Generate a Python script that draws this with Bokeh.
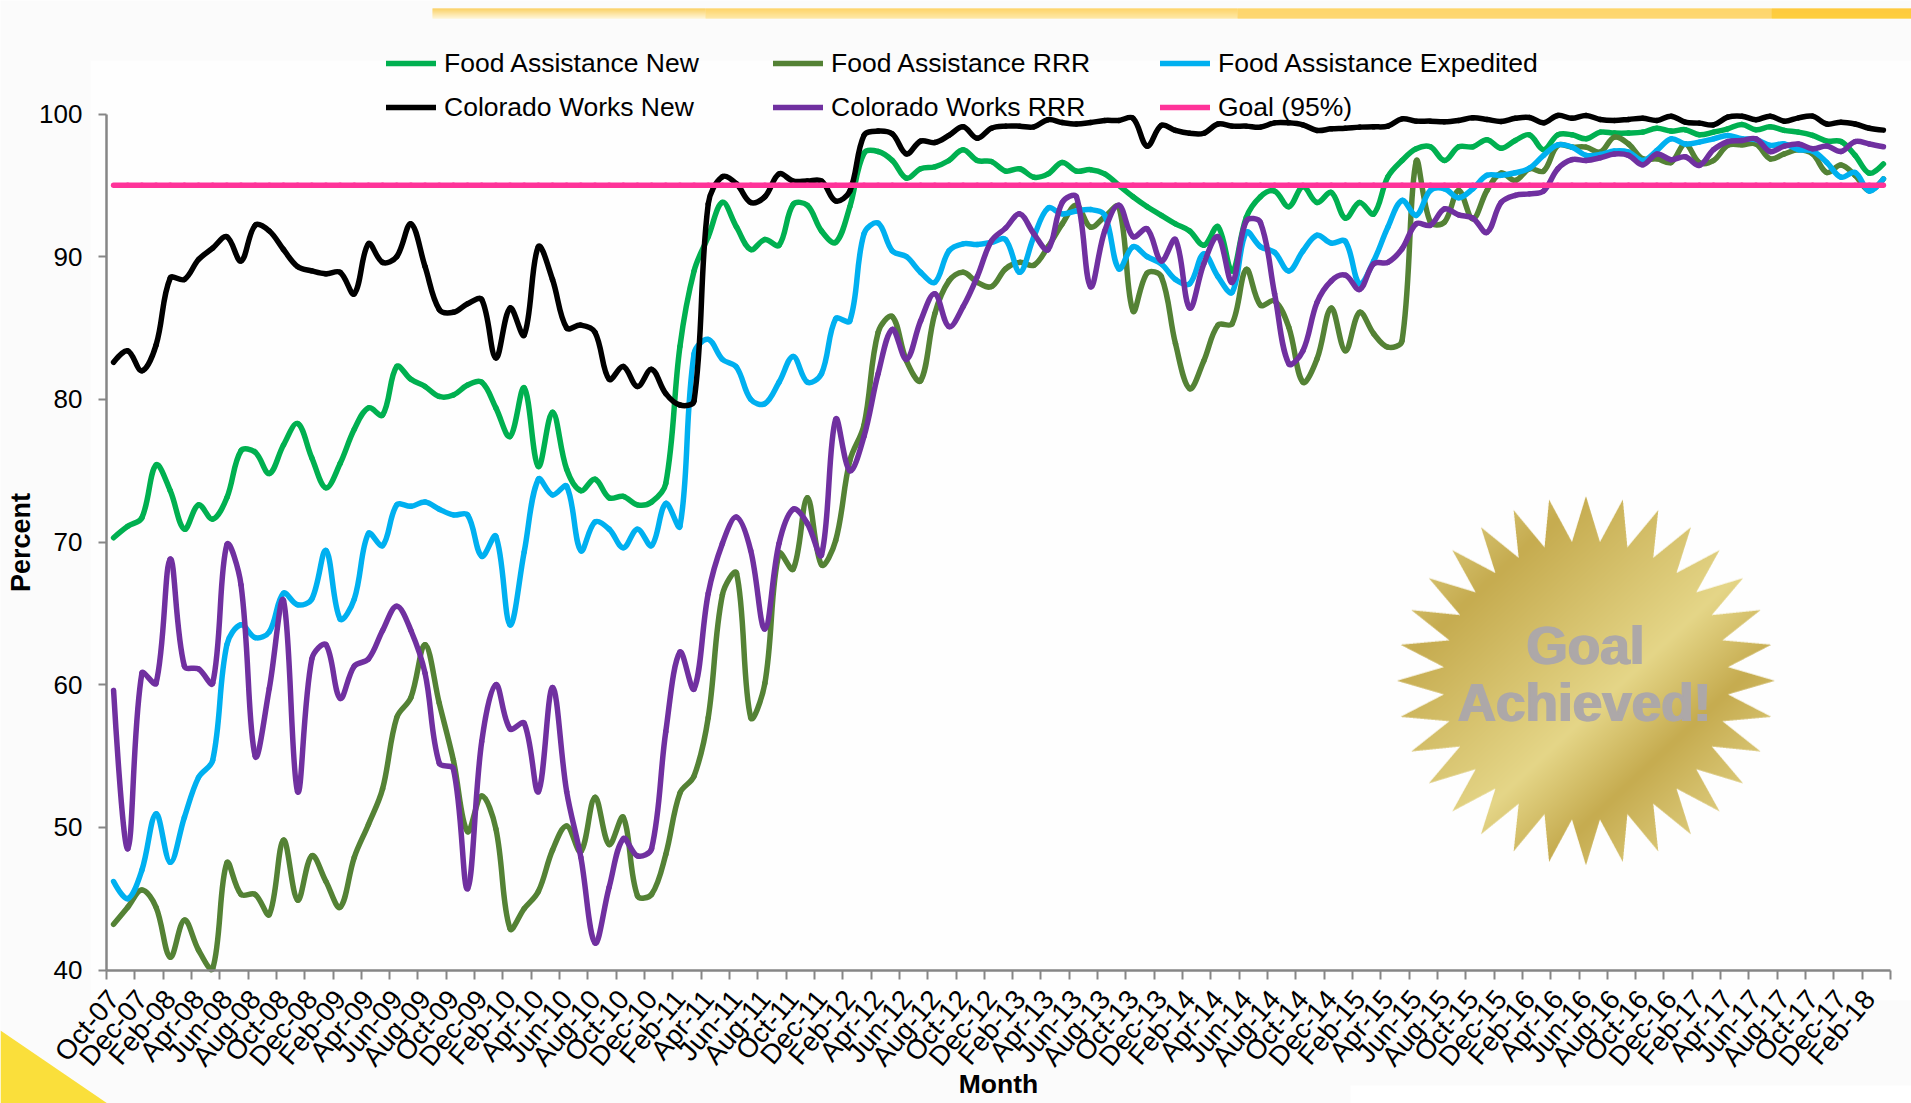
import numpy as np
from bokeh.plotting import figure
from bokeh.models import (ColumnDataSource, FixedTicker, LinearAxis, Legend, LegendItem, Range1d)
from bokeh.core.properties import value
from bokeh.embed import file_html
from bokeh.resources import INLINE

month_names = ["Oct","Nov","Dec","Jan","Feb","Mar","Apr","May","Jun","Jul","Aug","Sep"]
months = []
yr = 7
for k in range(126):
    m = month_names[k % 12]
    if m == "Jan" and k > 0:
        yr += 1
    months.append(f"{m}-{yr:02d}")

fa_new = [70.3,71.1,71.7,75.4,73.6,70.9,72.6,71.6,73.1,76.4,
 76.3,74.8,76.8,78.3,75.9,73.8,75.5,77.9,79.4,78.9,
 82.3,81.4,80.9,80.2,80.3,81.0,81.2,79.4,77.4,80.8,
 75.3,79.1,75.1,73.6,74.4,73.1,73.2,72.6,72.8,74.1,
 83.7,89.0,91.4,93.8,92.07,90.5,91.2,90.8,93.66,93.6,
 91.8,91.0,93.5,97.25,97.37,96.74,95.5,96.16,96.3,96.74,
 97.5,96.74,96.67,96.0,96.16,95.57,95.8,96.6,96.0,96.1,
 95.8,95.0,94.2,93.5,92.9,92.3,91.8,90.8,92.1,89.0,
 92.75,94.2,94.6,93.5,94.9,93.8,94.5,92.7,93.8,93.0,
 95.6,96.74,97.56,97.7,96.74,97.7,97.7,98.2,97.6,98.15,
 98.54,97.5,98.54,98.54,98.26,98.73,98.66,98.66,98.73,99.0,
 98.8,98.9,98.54,98.73,98.96,99.27,98.9,99.1,98.85,98.73,
 98.5,98.1,98.07,97.1,95.85,96.5]

fa_rrr = [43.2,44.4,45.6,44.4,40.9,43.5,41.4,40.1,47.5,45.3,
 45.3,43.9,49.1,44.9,48.0,46.2,44.4,47.9,50.2,52.7,
 57.7,59.1,62.8,58.7,54.7,49.7,52.2,49.9,42.9,44.3,
 45.5,48.4,50.1,48.3,52.1,48.8,50.7,45.2,45.3,48.1,
 52.4,53.6,57.7,66.3,67.8,57.7,60.1,69.2,68.1,73.1,
 68.4,70.1,75.7,78.2,84.7,85.8,82.7,81.3,86.0,88.3,
 88.9,88.2,87.9,89.15,89.6,89.4,90.7,92.3,93.6,92.07,
 92.8,93.5,86.2,88.85,88.6,83.9,80.75,82.7,85.2,85.3,
 89.1,86.6,86.9,85.06,81.2,82.84,86.4,83.4,86.1,84.6,
 83.66,84.1,96.67,92.42,92.42,94.64,92.65,94.64,95.85,95.34,
 96.16,96.0,97.8,97.68,97.68,97.33,98.38,97.9,96.86,96.86,
 96.6,97.9,96.6,96.74,97.8,97.84,97.9,96.86,97.2,97.5,
 97.2,95.9,96.43,95.7,94.63,95.45]

fa_exp = [46.2,45.0,47.0,50.95,47.55,50.7,53.5,54.7,62.8,64.2,
 63.3,63.7,66.4,65.6,66.0,69.4,64.6,66.0,70.6,69.75,
 72.6,72.5,72.8,72.3,71.9,71.9,69.0,70.4,64.2,69.3,
 74.4,73.3,73.9,69.4,71.4,70.9,69.6,70.9,69.75,72.7,
 71.1,83.2,84.2,82.8,82.25,80.0,79.7,81.2,83.0,81.2,
 81.8,85.65,85.5,91.6,92.35,90.4,90.0,88.9,88.2,90.4,
 90.9,90.85,91.0,91.2,88.9,91.4,93.4,93.0,93.2,93.3,
 92.9,89.15,90.7,90.0,89.5,88.4,88.1,90.2,88.6,87.5,
 91.7,90.7,90.3,89.0,90.4,91.5,90.95,91.07,88.1,89.7,
 92.07,93.94,92.9,94.64,94.76,94.13,94.76,95.7,95.7,95.88,
 96.2,97.1,97.84,97.68,97.1,97.16,97.4,97.33,96.74,97.44,
 98.26,97.9,98.03,98.26,98.5,98.26,98.2,97.8,97.9,97.5,
 97.4,96.6,95.57,95.9,94.6,95.45]

cw_new = [82.6,83.4,82.0,83.8,88.5,88.4,89.8,90.6,91.4,89.7,
 92.2,91.8,90.5,89.3,89.0,88.8,88.9,87.4,90.9,89.6,
 90.0,92.3,89.3,86.3,86.1,86.7,87.0,82.9,86.4,84.5,
 90.7,88.4,85.0,85.2,84.7,81.4,82.3,80.9,82.1,80.4,
 79.6,79.9,93.7,95.6,95.1,93.8,94.2,95.8,95.3,95.3,
 95.3,93.9,94.6,98.5,98.8,98.6,97.2,98.1,98.0,98.5,
 99.1,98.3,99.0,99.15,99.15,99.1,99.6,99.4,99.3,99.4,
 99.55,99.55,99.7,97.75,99.2,98.85,98.65,98.65,99.3,99.15,
 99.15,99.08,99.38,99.38,99.24,98.85,98.96,99.0,99.08,99.1,
 99.15,99.66,99.5,99.5,99.45,99.55,99.73,99.62,99.48,99.7,
 99.76,99.38,99.9,99.7,99.9,99.62,99.55,99.62,99.7,99.55,
 99.85,99.43,99.36,99.24,99.78,99.85,99.6,99.85,99.5,99.73,
 99.85,99.3,99.43,99.3,99.0,98.87]

cw_rrr = [59.6,48.5,60.8,60.1,68.8,61.3,61.1,60.1,69.8,67.0,
 55.0,59.75,65.9,52.5,61.8,62.8,59.05,61.3,61.8,63.8,
 65.5,63.8,60.8,54.5,54.1,45.7,56.0,60.0,56.9,57.3,
 52.5,59.8,52.5,47.9,41.9,45.8,49.2,48.0,48.5,56.7,
 62.28,59.7,66.4,69.9,71.74,69.4,63.9,69.9,72.3,71.3,
 69.1,78.6,75.0,77.4,81.8,84.9,82.8,85.5,87.4,85.1,
 86.5,88.6,91.1,92.0,93.0,91.6,90.5,93.8,94.2,87.9,
 91.8,93.6,91.4,91.95,89.7,91.2,86.4,89.5,91.4,88.2,
 92.5,92.4,87.4,82.5,83.4,86.8,88.3,88.7,87.7,89.5,
 89.6,90.55,92.3,92.2,93.35,92.93,92.7,91.7,93.8,94.3,
 94.4,94.6,96.16,96.8,96.74,96.93,97.2,97.1,96.44,97.2,
 96.8,97.0,96.4,97.5,98.07,98.14,98.26,97.37,97.75,97.9,
 97.56,97.75,97.37,98.07,97.9,97.7]

goal = [95] * 126

series = [("Food Assistance New", fa_new, "#00B050"),
          ("Food Assistance RRR", fa_rrr, "#548235"),
          ("Food Assistance Expedited", fa_exp, "#00B0F0"),
          ("Colorado Works New", cw_new, "#000000"),
          ("Colorado Works RRR", cw_rrr, "#7030A0"),
          ("Goal (95%)", goal, "#FF3399")]
for _, v, _c in series:
    assert len(v) == 126, len(v)

FONT = "Liberation Sans"
W, H = 1911, 1103
FX0, FX1, FY0, FY1 = 106.0, 1890.0, 113.5, 969.5   # where the axes lie on the page

def dx(px):
    return -0.5 + (px - FX0) / (FX1 - FX0) * 126
def dy(py):
    return 100 - (py - FY0) / (FY1 - FY0) * 60

p = figure(width=W, height=H, output_backend="svg", toolbar_location=None,
           x_range=Range1d(dx(0), dx(W)), y_range=Range1d(dy(H), dy(0)),
           min_border=0, x_axis_type=None, y_axis_type=None,
           border_fill_color="#FBFBFB", background_fill_color="#FBFBFB")
p.grid.visible = False
p.outline_line_color = None

def box(l, r, t, b, c):
    p.quad(left=[dx(l)], right=[dx(r)], top=[dy(t)], bottom=[dy(b)], fill_color=c, line_color=None)

def mix(a, b, t):
    a = np.array([int(a[i:i+2], 16) for i in (1, 3, 5)], float)
    b = np.array([int(b[i:i+2], 16) for i in (1, 3, 5)], float)
    c = a + (b - a) * t
    return "#%02X%02X%02X" % tuple(int(round(x)) for x in c)

box(90, W, 60, 1000, "#FEFEFE")
box(1350, W, 1085, H, "#FFFFFF")
bar_segments = [(432, 705, "#FBC437", "#FFF1C4"),
                (705, 1237, "#FFC83A", "#FFE189"),
                (1237, 1771, "#FFC93C", "#FFCB45"),
                (1771, W, "#FFB900", "#FFC000")]
for l, r, c0, c1 in bar_segments:
    for s in range(10):
        box(l, r, 8 + s, 9 + s, mix(c0, c1, s / 9))

p.patch(x=[dx(0), dx(0), dx(107)], y=[dy(1030), dy(H), dy(H)], fill_color="#FADF3B", line_color=None)

# seal
CX, CY = 1585.4, 680.3
n_pts = 32
ang = np.arange(2 * n_pts) * np.pi / n_pts
rad_x = np.where(np.arange(2 * n_pts) % 2 == 0, 189.0, 142.7)
rad_y = np.where(np.arange(2 * n_pts) % 2 == 0, 184.7, 139.4)
sx = rad_x * np.sin(ang)
sy = -rad_y * np.cos(ang)
SS = 3
R = 195
g = (np.arange(2 * R * SS) + 0.5) / SS - R
gx, gy = np.meshgrid(g, -g)     # row 0 is the bottom of the picture
inside = np.zeros(gx.shape, bool)
for i in range(len(sx)):
    x0, y0, x1, y1 = sx[i], sy[i], sx[(i + 1) % len(sx)], sy[(i + 1) % len(sx)]
    cross = (y0 > gy) != (y1 > gy)
    with np.errstate(divide="ignore", invalid="ignore"):
        xi = x0 + (gy - y0) * (x1 - x0) / (y1 - y0)
    inside ^= cross & (gx < xi)
alpha = inside.reshape(2 * R, SS, 2 * R, SS).mean(axis=(1, 3))
t = (g.reshape(2 * R, SS).mean(axis=1))
tx, ty = np.meshgrid(t, -t)
proj = tx * 0.68 + ty * 0.73
stops_t = [-210, -138, 27, 105, 210]
stops = [(0xDC, 0xCB, 0x7C), (0xC6, 0xAC, 0x50), (0xE5, 0xD6, 0x88), (0xC6, 0xAC, 0x50), (0xE2, 0xD2, 0x85)]
rc = np.interp(proj, stops_t, [s[0] for s in stops])
gc = np.interp(proj, stops_t, [s[1] for s in stops])
bc = np.interp(proj, stops_t, [s[2] for s in stops])
img = np.zeros((2 * R, 2 * R), dtype=np.uint32)
view = img.view(dtype=np.uint8).reshape((2 * R, 2 * R, 4))
view[..., 0] = rc.astype(np.uint8)
view[..., 1] = gc.astype(np.uint8)
view[..., 2] = bc.astype(np.uint8)
view[..., 3] = (alpha * 255).astype(np.uint8)
p.image_rgba(image=[img], x=dx(CX - R), y=dy(CY + R),
             dw=dx(CX + R) - dx(CX - R), dh=dy(CY - R) - dy(CY + R))
for txt, tx_px, ty_px in [("Goal", 1585, 645), ("Achieved!", 1584, 702)]:
    for off in (-1.0, 1.0):
        p.text(x=[dx(tx_px + off)], y=[dy(ty_px)], text=[txt], text_font=value(FONT),
               text_font_style="bold", text_font_size="53px", text_color="#ADA8A8",
               text_align="center", text_baseline="middle")

# smoothed series: cubic Bezier segments through the monthly values, with handles
# shared out by the lengths of the two neighbouring chords
def bez(vals, tension=0.36):
    y = np.array(vals, float)
    x = np.arange(len(y), dtype=float)
    n = len(y)
    d = np.hypot(np.diff(x), np.diff(y))
    cbx, cby, cax, cay = x.copy(), y.copy(), x.copy(), y.copy()
    for i in range(1, n - 1):
        s = d[i - 1] + d[i]
        tx_, ty_ = x[i + 1] - x[i - 1], y[i + 1] - y[i - 1]
        fa, fb = tension * d[i - 1] / s, tension * d[i] / s
        cbx[i], cby[i] = x[i] - fa * tx_, y[i] - fa * ty_
        cax[i], cay[i] = x[i] + fb * tx_, y[i] + fb * ty_
    return dict(x0=x[:-1], y0=y[:-1], x1=x[1:], y1=y[1:],
                cx0=cax[:-1], cy0=cay[:-1], cx1=cbx[1:], cy1=cby[1:])

items = []
for name, vals, col in series:
    r = p.bezier(x0="x0", y0="y0", x1="x1", y1="y1", cx0="cx0", cy0="cy0", cx1="cx1", cy1="cy1",
                 source=ColumnDataSource(bez(vals)), line_color=col, line_width=5.5,
                 line_cap="round")
    items.append(LegendItem(label=name, renderers=[r], index=0))

# axes (fixed on the value 40 and on the left end of the months)
GRAY = "#868686"
edges = [-0.5 + 2 * i for i in range(64)]
tick_axis = LinearAxis(ticker=FixedTicker(ticks=edges), fixed_location=40,
                       bounds=(-0.5, 125.5),
                       major_label_text_font_size="0px", major_label_standoff=0,
                       major_label_overrides={e: "" for e in edges},
                       axis_line_color=GRAY, axis_line_width=2.5,
                       major_tick_line_color=GRAY, major_tick_line_width=2,
                       major_tick_in=0, major_tick_out=9,
                       minor_tick_line_color=None)
p.add_layout(tick_axis, "below")

label_pos = list(range(0, 126, 2))
label_axis = LinearAxis(ticker=FixedTicker(ticks=label_pos), fixed_location=40,
                        bounds=(-0.5, 125.5),
                        major_label_overrides={i: months[i] for i in label_pos},
                        major_label_orientation=0.87,
                        major_label_text_font=FONT, major_label_text_font_size="27.5px",
                        major_label_text_color="#000000", major_label_standoff=24,
                        axis_line_color=None, major_tick_line_color=None,
                        major_tick_in=0, major_tick_out=0,
                        minor_tick_line_color=None,
                        axis_label="Month", axis_label_text_font=FONT,
                        axis_label_text_font_size="26.5px", axis_label_text_font_style="bold",
                        axis_label_text_color="#000000", axis_label_standoff=-16)
p.add_layout(label_axis, "below")

y_axis = LinearAxis(ticker=FixedTicker(ticks=[40, 50, 60, 70, 80, 90, 100]), fixed_location=-0.5,
                    bounds=(40, 100),
                    major_label_text_font=FONT, major_label_text_font_size="26px",
                    major_label_text_color="#000000", major_label_standoff=16,
                    axis_line_color=GRAY, axis_line_width=2.5,
                    major_tick_line_color=GRAY, major_tick_line_width=2,
                    major_tick_in=0, major_tick_out=8, minor_tick_line_color=None,
                    axis_label="Percent", axis_label_text_font=FONT,
                    axis_label_text_font_size="27px", axis_label_text_font_style="bold",
                    axis_label_text_color="#000000", axis_label_standoff=0)
p.add_layout(y_axis, "left")

legend = Legend(items=items, ncols=3, orientation="horizontal",
                location=(386, H - 125), padding=0, margin=0, spacing=8,
                glyph_width=50, glyph_height=36, label_height=36, label_width=321,
                label_standoff=8, label_text_font=FONT, label_text_font_size="26.5px",
                label_text_color="#000000", label_text_baseline="middle",
                background_fill_alpha=0, border_line_color=None)
p.add_layout(legend, "center")

open("out.html", "w").write(file_html(p, INLINE))
